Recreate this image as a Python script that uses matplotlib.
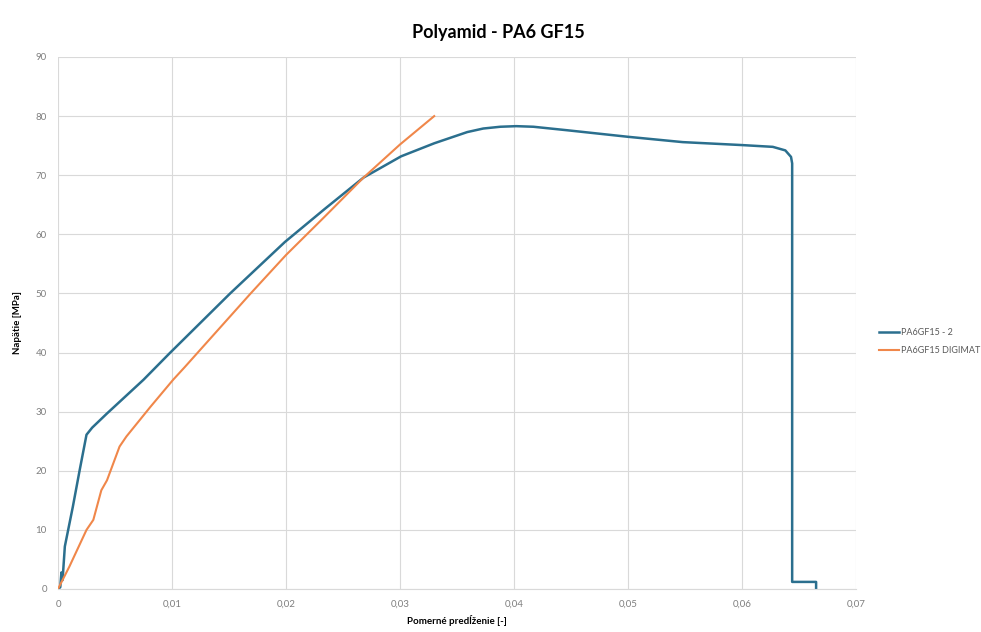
import matplotlib
matplotlib.use('Agg')
from matplotlib import pyplot as plt
from matplotlib.ticker import FuncFormatter

plt.rcParams['font.family'] = ['Lato', 'DejaVu Sans']

# measured curve PA6GF15 - 2
strain_test = [0, 0.0002, 0.0003, 0.0004, 0.0006, 0.0013, 0.0019, 0.0025, 0.0030,
               0.0043, 0.0075, 0.0098, 0.0151, 0.0199, 0.0234, 0.0268, 0.0301,
               0.0330, 0.0359, 0.0373, 0.0388, 0.0402, 0.0417, 0.0447, 0.0500,
               0.0548, 0.0600, 0.0627, 0.0638, 0.0643, 0.0644, 0.0644, 0.0665, 0.0665]
stress_test = [0, 0.3, 2.8, 1.5, 7.2, 13.9, 20.1, 26.1, 27.3,
               29.7, 35.4, 39.9, 50.0, 58.7, 64.3, 69.6, 73.2,
               75.4, 77.3, 77.9, 78.2, 78.3, 78.2, 77.6, 76.5,
               75.6, 75.1, 74.8, 74.2, 73.1, 72.0, 1.2, 1.2, 0]

# simulation PA6GF15 DIGIMAT
strain_sim = [0, 0.0010, 0.0025, 0.0031, 0.0038, 0.0043, 0.0054, 0.0060,
              0.0081, 0.0101, 0.0111, 0.0169, 0.0200, 0.0234, 0.0268, 0.0300, 0.0330]
stress_sim = [0, 3.8, 10.0, 11.7, 16.7, 18.4, 24.1, 25.8,
              30.8, 35.4, 37.5, 50.0, 56.5, 63.0, 69.6, 75.2, 80.0]

x_ticks = [0, 0.01, 0.02, 0.03, 0.04, 0.05, 0.06, 0.07]
y_ticks = [0, 10, 20, 30, 40, 50, 60, 70, 80, 90]

blue = '#2b6f8e'
orange = '#f0874a'
grey = '#7f7f7f'

fig = plt.figure(figsize=(9.81, 6.32), dpi=100)
ax = fig.add_axes([58 / 981, 43 / 632, 798 / 981, 532 / 632])

ax.plot(strain_test, stress_test, color=blue, lw=1.8, label='PA6GF15 - 2')
ax.plot(strain_sim, stress_sim, color=orange, lw=1.5, label='PA6GF15 DIGIMAT')

ax.set_xlim(0, 0.07)
ax.set_ylim(0, 90)
ax.set_xticks(x_ticks)
ax.set_yticks(y_ticks)


def comma_fmt(v, pos):
    if v == 0:
        return '0'
    return '{:.2f}'.format(v).replace('.', ',')


ax.xaxis.set_major_formatter(FuncFormatter(comma_fmt))
ax.yaxis.set_major_formatter(FuncFormatter(lambda v, p: '{:d}'.format(int(v))))
ax.tick_params(length=0, labelsize=7, labelcolor=grey, pad=8)
ax.grid(True, color='#d9d9d9', lw=0.8)
ax.set_axisbelow(True)
for side in ['top', 'right', 'left']:
    ax.spines[side].set_visible(False)
ax.spines['bottom'].set_color('#d9d9d9')

fig.suptitle('Polyamid - PA6 GF15', x=0.508, y=0.948, va='center',
             fontsize=13, fontweight='bold')
ax.set_xlabel('Pomerné predĺženie [-]', fontsize=7, fontweight='bold', labelpad=4)
ax.set_ylabel('Napätie [MPa]', fontsize=7, fontweight='bold', labelpad=10)

fig.legend(loc='center left', bbox_to_anchor=(0.888, 0.46), frameon=False,
           fontsize=6.5, labelcolor='#595959', handlelength=2.2, handletextpad=0.2,
           labelspacing=1.0)

fig.savefig('out.png', dpi=100)
